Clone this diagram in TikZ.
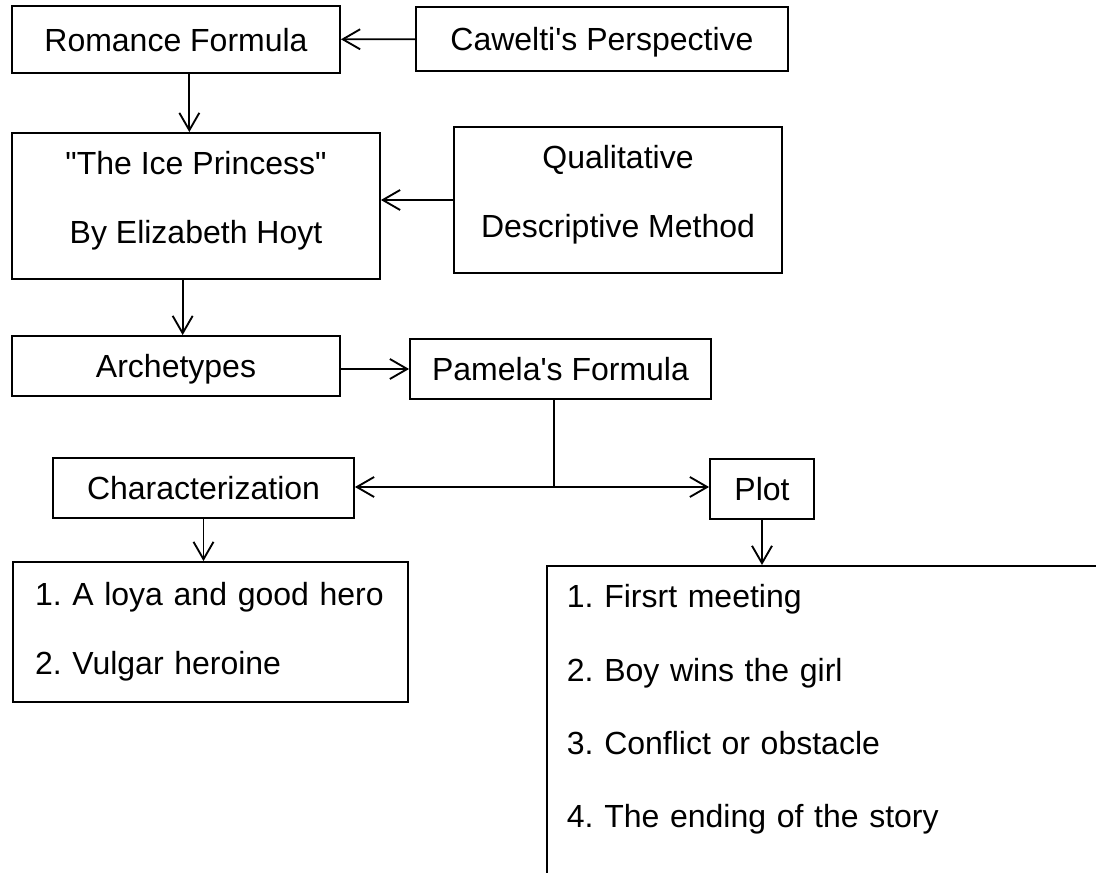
\documentclass[tikz,border=0pt]{standalone}
\usepackage{fontspec}
\setmainfont{Liberation Sans}[Ligatures=TeXOff]
\usetikzlibrary{arrows.meta}
\frenchspacing

\begin{document}
\begin{tikzpicture}[x=0.75pt,y=-0.75pt,line width=1.4pt,
    >={Straight Barb[length=13pt,width=15pt]},
    box/.style={draw,inner sep=0pt,font=\fontsize{24}{52}\selectfont},
    linebox/.style={box,text height=18pt,text depth=0.5pt},
    listbox/.style={draw,align=left,inner ysep=0pt,font=\fontsize{24}{52}\selectfont}]
      \useasboundingbox (0,0) rectangle (1096,873);
      \clip (0,0) rectangle (1096,873);
      \path (176,39.5) node[linebox,minimum width=246pt,minimum height=50.25pt] (romance) {Romance Formula};
      \path (602,39) node[linebox,minimum width=279pt,minimum height=48pt] (cawelti) {Cawelti's Perspective};
      \path (196,206) node[box,align=center,text depth=13pt,minimum width=276pt,minimum height=109.5pt] (ice) {"The Ice Princess"\\By Elizabeth Hoyt};
      \path (618,200) node[box,align=center,text depth=13pt,minimum width=246pt,minimum height=109.5pt] (quali) {Qualitative\\Descriptive Method};
      \path (176,366) node[linebox,minimum width=246pt,minimum height=45pt] (arche) {Archetypes};
      \path (560.5,369) node[linebox,minimum width=225.75pt,minimum height=45pt] (pamela) {Pamela's Formula};
      \path (203.5,488) node[linebox,minimum width=225.75pt,minimum height=45pt] (charac) {Characterization};
      \path (762,489) node[linebox,minimum width=78pt,minimum height=45pt] (plot) {Plot};
      \path (210.5,632) node[listbox,inner xsep=16.5pt,text width=263.25pt,minimum height=105pt] (charlist) {1. A loya and good hero\\2. Vulgar heroine};
      \path (546,565) node[listbox,anchor=north west,inner xsep=15pt,inner ysep=14pt,text width=600pt,font=\fontsize{24}{55}\selectfont] (plotlist) {1. Firsrt meeting\\2. Boy wins the girl\\3. Conflict or obstacle\\4. The ending of the story\\ \strut};
      \coordinate (split) at (554,487);
      \draw [->] (cawelti) -- (romance);
      \draw [->] ([xshift=10pt]romance.south) -- ([xshift=10pt]romance.south |- ice.north);
      \draw [->] (quali.west) -- (quali.west -| ice.east);
      \draw [->] ([xshift=-10pt]ice.south) -- ([xshift=-10pt]ice.south |- arche.north);
      \draw [->] (pamela.west -| arche.east) -- (pamela.west);
      \draw (split |- pamela.south) -- (split);
      \draw [->] (split) -- (charac.east |- split);
      \draw [->] (split) -- (plot.west |- split);
      \draw [->] (charac.south) -- (charac.south |- charlist.north);
      \draw [->] (plot.south) -- (plot.south |- plotlist.north);
\end{tikzpicture}
\end{document}
